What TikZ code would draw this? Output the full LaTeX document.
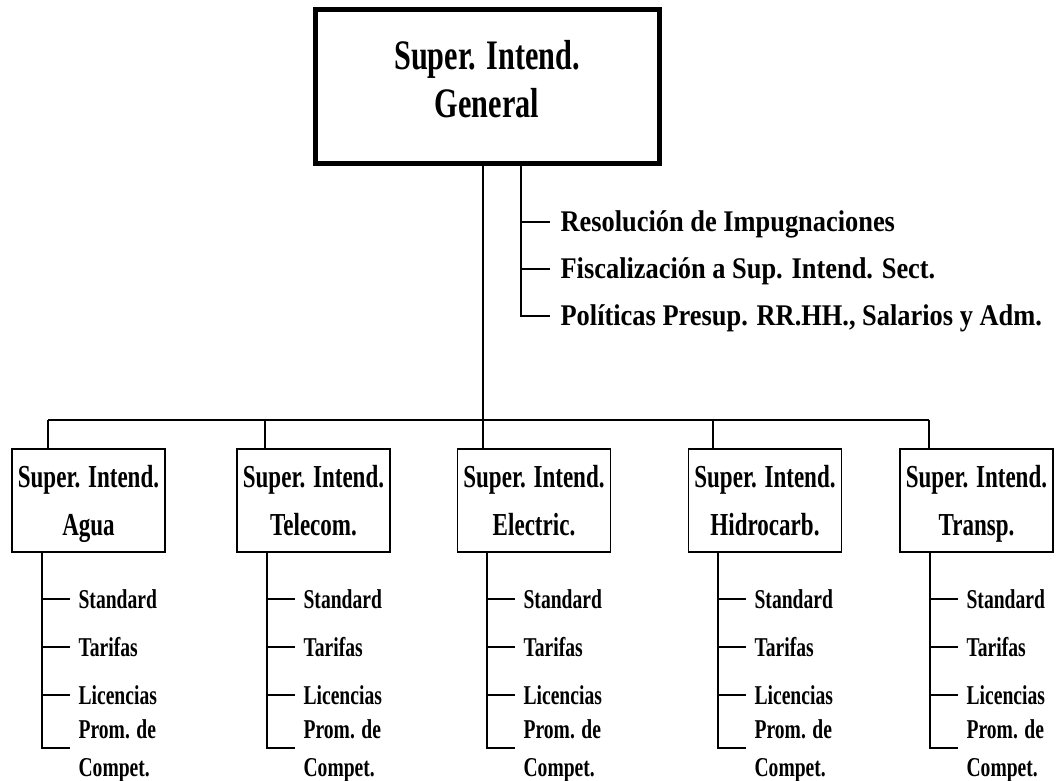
\documentclass[tikz,border=0pt]{standalone}
\usepackage{fontspec}
\setmainfont{Liberation Serif}[FakeStretch=0.72]
\newfontfamily\dutyfont{Liberation Serif}[FakeStretch=0.88]

\begin{document}
\begin{tikzpicture}[x=0.5pt, y=-0.5pt, line width=0.6pt]
  \tikzset{headbox/.style={draw, line width=2.5pt, minimum width=172pt, minimum height=77pt,
      align=center, text depth=8pt, font=\bfseries\fontsize{21}{24}\selectfont},
    unitbox/.style={draw, minimum width=76.5pt, minimum height=51.5pt, inner sep=0pt,
      align=center, text depth=0pt, font=\bfseries\fontsize{16}{24}\selectfont},
    duty/.style={anchor=west, inner xsep=5pt, inner ysep=0pt, text height=10pt, text depth=0pt,
      font=\dutyfont\bfseries\fontsize{15}{18}\selectfont},
    task/.style={anchor=west, inner xsep=4pt, inner ysep=0pt, text height=9pt, text depth=0pt,
      font=\bfseries\fontsize{13.6}{19}\selectfont},
    task2/.style={task, align=left, text height=, text depth=0pt}}
  \useasboundingbox (0,0) rectangle (1057,781);
  \node[headbox] (SIG) at (487,86.5) {Super. Intend.\\General};
  % staff functions
  \coordinate (SIG-s) at (521,0);
  \node[duty] (SIG-1) at (550,222) {Resolución de Impugnaciones};
  \node[duty] (SIG-2) at (550,269) {Fiscalización a Sup. Intend. Sect.};
  \node[duty] (SIG-3) at (550,316) {Políticas Presup. RR.HH., Salarios y Adm.};
  \draw (SIG.south -| SIG-s) |- (SIG-3.west);
  \draw (SIG-1.west -| SIG-s) -- (SIG-1.west);
  \draw (SIG-2.west -| SIG-s) -- (SIG-2.west);
  % sector units
  \coordinate (bar) at (0,420);
  \foreach \n/\c/\d/\s/\name in {1/88.5/48/42/Agua, 2/313.5/265/267/Telecom.,
      3/534/483/487/Electric., 4/765/713/718/Hidrocarb., 5/976.5/929/930/Transp.}{
    \node[unitbox] (SI-\n) at (\c,500.5) {Super. Intend.\\\name};
    \coordinate (SI-\n-d) at (\d,0);
    \coordinate (SI-\n-s) at (\s,0);
    \node[task] (SI-\n-1) at (\s+28,599) {Standard};
    \node[task] (SI-\n-2) at (\s+28,647) {Tarifas};
    \node[task] (SI-\n-3) at (\s+28,695) {Licencias};
    \node[task2] (SI-\n-4) at (\s+28,748) {Prom. de\\Compet.};
    \draw (bar -| SI-\n-d) -- (SI-\n.north -| SI-\n-d);
    \draw (SI-\n.south -| SI-\n-s) |- (SI-\n-4.west);
    \foreach \k in {1,2,3}
      \draw (SI-\n-\k.west -| SI-\n-s) -- (SI-\n-\k.west);
  }
  \draw (bar -| SI-1-d) -- (bar -| SI-5-d);
  \draw (SIG.south -| SI-3-d) -- (bar -| SI-3-d);
\end{tikzpicture}
\end{document}
